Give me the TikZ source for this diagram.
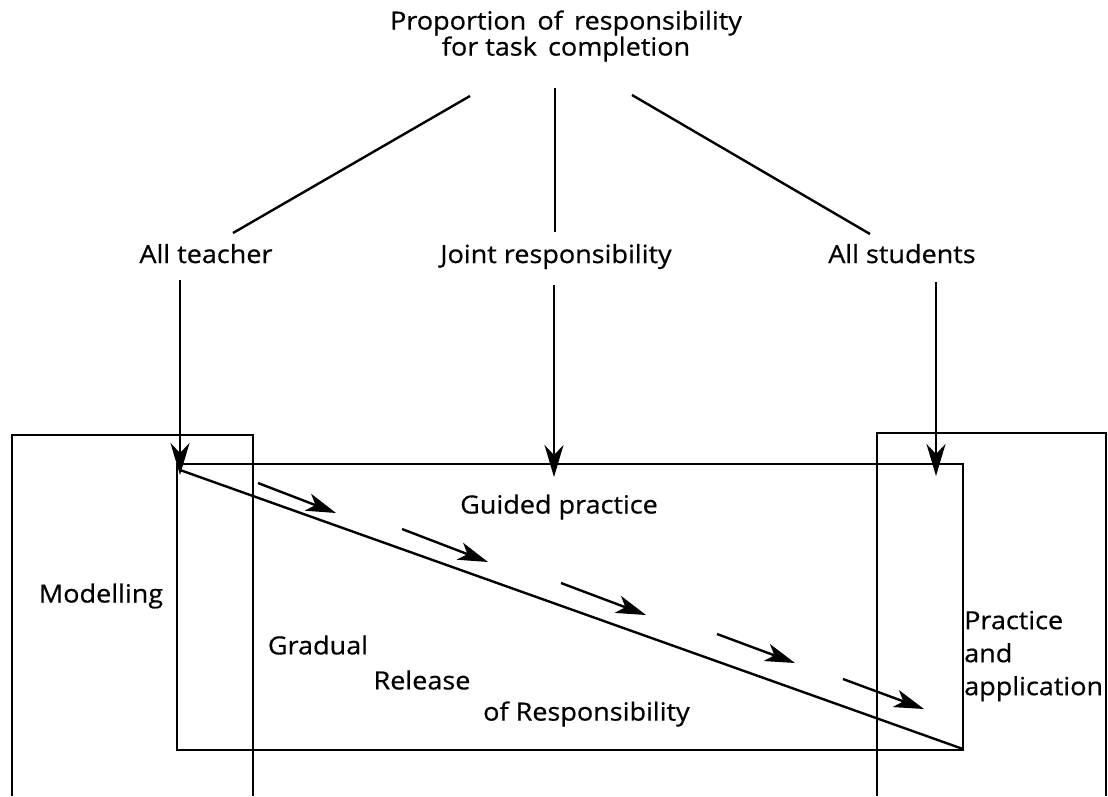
\documentclass[tikz,border=0pt]{standalone}
\usepackage{fontspec}
\setmainfont{Open Sans}[FakeStretch=1.08,FakeBold=0.6]
\usetikzlibrary{arrows.meta}
\begin{document}
\begin{tikzpicture}[x=1pt,y=-1pt,
  ln/.style={line width=2.4pt},
  lbl/.style={inner sep=0pt,font=\fontsize{25}{33}\selectfont},
  vtip/.style={ln,-{Stealth[length=32pt,width=19pt,inset=10pt]}},
  dtip/.style={ln,-{Stealth[length=30pt,width=18pt,inset=8pt]}}]
\useasboundingbox (0,0) rectangle (1108,796);
% title and level labels
\node[lbl,align=center,font=\fontsize{25}{26}\selectfont] (title) at (566,36) {Proportion\, of\, responsibility\\for task\, completion};
\node[lbl,anchor=base] (teacher) at (206,263) {All teacher};
\node[lbl,anchor=base] (joint) at (556,263) {Joint responsibility};
\node[lbl,anchor=base] (students) at (902,263) {All students};
% connector ends
\coordinate (tl) at (470,96);
\coordinate (tm) at (555,88);
\coordinate (tr) at (632,95);
\coordinate (bl) at (233,233);
\coordinate (bm) at (555,232);
\coordinate (br) at (870,234);
\draw[ln] (tl) -- (bl);
\draw[ln] (tm) -- (bm);
\draw[ln] (tr) -- (br);
% boxes
\draw[ln] (12,796) -- (12,435) -- (253,435) -- (253,796);
\draw[ln] (877,796) -- (877,433) -- (1106,433) -- (1106,796);
\draw[ln] (177,464) rectangle (963,750);
\coordinate (gs) at (180,470);
\coordinate (ge) at (963,749);
% vertical arrows
\coordinate (a1) at (180,280);
\coordinate (a2) at (554,285);
\coordinate (a3) at (936,282);
\coordinate (h1) at (180,475);
\coordinate (h2) at (554,477);
\coordinate (h3) at (936,476);
\draw[vtip] (a1) -- (h1);
\draw[vtip] (a2) -- (h2);
\draw[vtip] (a3) -- (h3);
% diagonal
\draw[ln] (gs) -- (ge);
% small arrows
\coordinate (s1) at (258,483); \coordinate (e1) at (336,513);
\coordinate (s2) at (402,529); \coordinate (e2) at (488,562);
\coordinate (s3) at (561,583); \coordinate (e3) at (646,615);
\coordinate (s4) at (717,634); \coordinate (e4) at (795,663);
\coordinate (s5) at (843,679); \coordinate (e5) at (924,709);
\foreach \i in {1,...,5} {\draw[dtip] (s\i) -- (e\i);}
% inner labels
\node[lbl] (guided) at (559,507) {Guided practice};
\node[lbl] (model) at (101,596) {Modelling};
\node[lbl] (grad) at (318,645) {Gradual};
\node[lbl] (rel) at (422,680) {Release};
\node[lbl,anchor=west] (ofr) at (483,714) {of Responsibility};
\node[lbl,anchor=west,align=left] (prac) at (964,656) {Practice\\and\\application};
\end{tikzpicture}
\end{document}
